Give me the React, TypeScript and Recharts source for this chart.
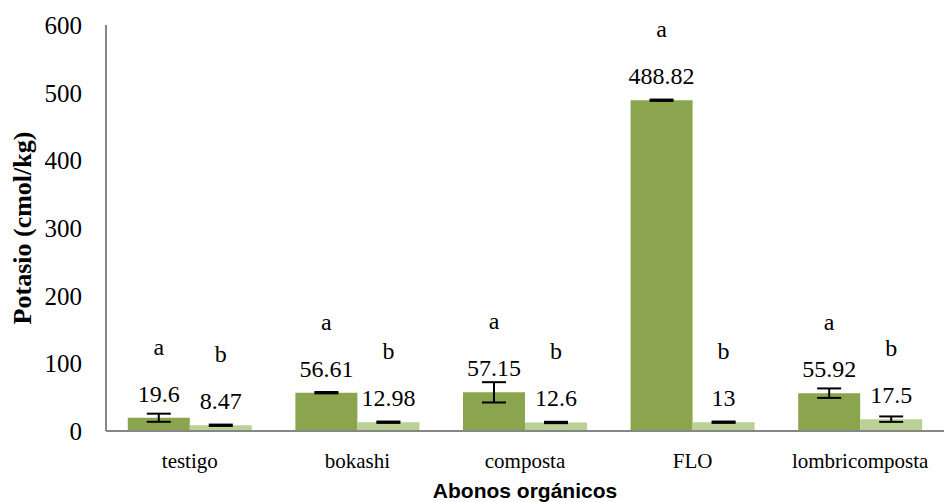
import React from 'react';
import { BarChart, Bar, XAxis, YAxis, ErrorBar, LabelList, Label } from 'recharts';

const categories = ['testigo', 'bokashi', 'composta', 'FLO', 'lombricomposta'];
const seriesA = [19.6, 56.61, 57.15, 488.82, 55.92];
const seriesB = [8.47, 12.98, 12.6, 13, 17.5];
const errA = [6, 1, 15, 1, 7];
const errB = [1, 1, 1, 1, 4];
const lettersA = ['a', 'a', 'a', 'a', 'a'];
const lettersB = ['b', 'b', 'b', 'b', 'b'];
const yTicks = [0, 100, 200, 300, 400, 500, 600];

const data = categories.map((c, i) => ({
  name: c,
  a: seriesA[i],
  b: seriesB[i],
  ea: errA[i],
  eb: errB[i],
  la: lettersA[i],
  lb: lettersB[i],
}));

const serif = '"Liberation Serif", "Times New Roman", serif';
const axisColor = '#868686';
const darkGreen = '#8AA54D';
const lightGreen = '#BAD095';

const YTitle = (props: any) => {
  const vb = props.viewBox || {};
  const x = 22;
  const y = (vb.y || 0) + (vb.height || 0) / 2;
  return (
    <text
      x={x}
      y={y}
      transform={`rotate(-90, ${x}, ${y})`}
      textAnchor="middle"
      dominantBaseline="central"
      fontFamily={serif}
      fontWeight="bold"
      fontSize={26}
      fill="#000"
    >
      Potasio (cmol/kg)
    </text>
  );
};

const XTitle = (props: any) => {
  const vb = props.viewBox || {};
  const x = (vb.x || 0) + (vb.width || 0) / 2;
  return (
    <text
      x={x}
      y={498}
      textAnchor="middle"
      fontFamily='"Liberation Sans", Arial, sans-serif'
      fontWeight="bold"
      fontSize={21}
      fill="#000"
    >
      Abonos orgánicos
    </text>
  );
};

const makeLabel = (offset: number) => (props: any) => {
  const { x, y, width, value } = props;
  return (
    <text
      x={Number(x) + Number(width) / 2}
      y={Number(y) - offset}
      textAnchor="middle"
      fontFamily={serif}
      fontSize={24}
      fill="#000"
    >
      {value}
    </text>
  );
};

const valueLabel = makeLabel(16);
const letterLabel = makeLabel(63);

export default function App() {
  return (
    <div style={{ position: 'absolute', left: 0, top: 0, background: '#fff' }}>
      <BarChart
        width={944}
        height={502}
        data={data}
        margin={{ top: 25, right: 0, bottom: 0, left: 0 }}
        barGap={0}
        barCategoryGap="13%"
      >
        <XAxis
          dataKey="name"
          height={71}
          tickLine={false}
          tickSize={0}
          tickMargin={22}
          axisLine={{ stroke: axisColor, strokeWidth: 2 }}
          tick={{ fontFamily: serif, fontSize: 21, fill: '#000' }}
          interval={0}
        >
          <Label content={XTitle} />
        </XAxis>
        <YAxis
          width={106}
          domain={[0, 600]}
          ticks={yTicks}
          interval={0}
          tickLine={false}
          tickSize={0}
          tickMargin={24}
          axisLine={{ stroke: axisColor, strokeWidth: 2 }}
          tick={{ fontFamily: serif, fontSize: 25, fill: '#000' }}
        >
          <Label content={YTitle} />
        </YAxis>
        <Bar dataKey="a" fill={darkGreen} isAnimationActive={false}>
          <ErrorBar dataKey="ea" width={12} stroke="#000" strokeWidth={2} isAnimationActive={false} />
          <LabelList dataKey="a" content={valueLabel} />
          <LabelList dataKey="la" content={letterLabel} />
        </Bar>
        <Bar dataKey="b" fill={lightGreen} isAnimationActive={false}>
          <ErrorBar dataKey="eb" width={12} stroke="#000" strokeWidth={2} isAnimationActive={false} />
          <LabelList dataKey="b" content={valueLabel} />
          <LabelList dataKey="lb" content={letterLabel} />
        </Bar>
      </BarChart>
    </div>
  );
}
